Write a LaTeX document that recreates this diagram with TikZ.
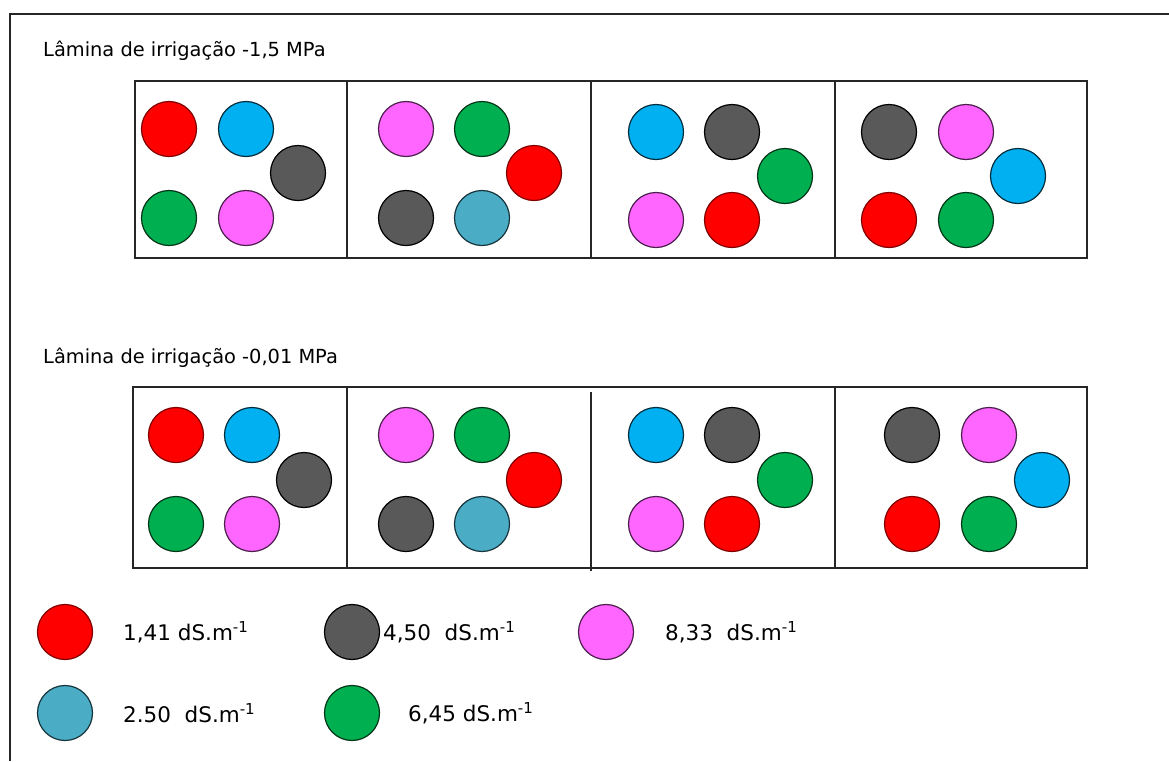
\documentclass[tikz,border=0pt]{standalone}
\usepackage{fontspec}
\setmainfont{DejaVu Sans}
\usepackage{tikz}

\definecolor{cred}{HTML}{FF0000}
\definecolor{csky}{HTML}{00B0F0}
\definecolor{csteel}{HTML}{4BACC6}
\definecolor{cgray}{HTML}{595959}
\definecolor{cgreen}{HTML}{00B050}
\definecolor{cpink}{HTML}{FF66FF}

\tikzset{
    pot/.style={circle, minimum size=55pt, inner sep=0pt, line width=1.2pt},
    s141/.style={pot, fill=cred, draw=cred!50!black},
    s250/.style={pot, fill=csteel, draw=csteel!30!black},
    s250b/.style={pot, fill=csky, draw=csky!25!black},
    s450/.style={pot, fill=cgray, draw=black},
    s645/.style={pot, fill=cgreen, draw=cgreen!30!black},
    s833/.style={pot, fill=cpink, draw=cpink!30!black},
    frame/.style={line width=1.3pt, draw=black!85},
    title/.style={anchor=west, inner sep=0pt, font=\fontsize{19.4}{22}\selectfont},
    legend/.style={anchor=west, inner sep=0pt, font=\fontsize{21.5}{24}\selectfont}
}

\begin{document}
\begin{tikzpicture}[x=1pt, y=-1pt]
    \useasboundingbox (0,0) rectangle (1169,761);

    % outer frame
    \draw[frame] (1169,14) -- (10,14) -- (10,761);

    % -1,5 MPa
    \node[title] (tit1) at (43,51) {Lâmina de irrigação -1,5 MPa};
    \draw[frame] (135,81) rectangle (1087,258);
    \draw[frame] (347,81) -- (347,258);
    \draw[frame] (591,81) -- (591,258);
    \draw[frame] (835,81) -- (835,258);

    \node[s141]  (a11) at (169,129) {};
    \node[s250b] (a12) at (246,129) {};
    \node[s450]  (a13) at (298,173) {};
    \node[s645]  (a14) at (169,218) {};
    \node[s833]  (a15) at (246,218) {};

    \node[s833]  (a21) at (406,129) {};
    \node[s645]  (a22) at (482,129) {};
    \node[s141]  (a23) at (534,173) {};
    \node[s450]  (a24) at (406,218) {};
    \node[s250]  (a25) at (482,218) {};

    \node[s250b] (a31) at (656,132) {};
    \node[s450]  (a32) at (732,132) {};
    \node[s645]  (a33) at (785,176) {};
    \node[s833]  (a34) at (656,220) {};
    \node[s141]  (a35) at (732,220) {};

    \node[s450]  (a41) at (889,132) {};
    \node[s833]  (a42) at (966,132) {};
    \node[s250b] (a43) at (1018,176) {};
    \node[s141]  (a44) at (889,220) {};
    \node[s645]  (a45) at (966,220) {};

    % -0,01 MPa
    \node[title] (tit2) at (43,358) {Lâmina de irrigação -0,01 MPa};
    \draw[frame] (133,387) rectangle (1087,568);
    \draw[frame] (347,387) -- (347,568);
    \draw[frame] (591,392) -- (591,571);
    \draw[frame] (835,387) -- (835,568);

    \node[s141]  (b11) at (176,435) {};
    \node[s250b] (b12) at (252,435) {};
    \node[s450]  (b13) at (304,480) {};
    \node[s645]  (b14) at (176,524) {};
    \node[s833]  (b15) at (252,524) {};

    \node[s833]  (b21) at (406,435) {};
    \node[s645]  (b22) at (482,435) {};
    \node[s141]  (b23) at (534,480) {};
    \node[s450]  (b24) at (406,524) {};
    \node[s250]  (b25) at (482,524) {};

    \node[s250b] (b31) at (656,435) {};
    \node[s450]  (b32) at (732,435) {};
    \node[s645]  (b33) at (785,480) {};
    \node[s833]  (b34) at (656,524) {};
    \node[s141]  (b35) at (732,524) {};

    \node[s450]  (b41) at (912,435) {};
    \node[s833]  (b42) at (989,435) {};
    \node[s250b] (b43) at (1042,480) {};
    \node[s141]  (b44) at (912,524) {};
    \node[s645]  (b45) at (989,524) {};

    % legend
    \node[s141] (k141) at (65,632) {};
    \node[legend] (l141) at (123,632) {1,41 dS.m\textsuperscript{-1}};
    \node[s450] (k450) at (352,632) {};
    \node[legend] (l450) at (383,632) {4,50\ \ dS.m\textsuperscript{-1}};
    \node[s833] (k833) at (606,632) {};
    \node[legend] (l833) at (665,632) {8,33\ \ dS.m\textsuperscript{-1}};
    \node[s250] (k250) at (65,713) {};
    \node[legend] (l250) at (123,713) {2.50\ \ dS.m\textsuperscript{-1}};
    \node[s645] (k645) at (352,713) {};
    \node[legend] (l645) at (408,713) {6,45 dS.m\textsuperscript{-1}};
\end{tikzpicture}
\end{document}
